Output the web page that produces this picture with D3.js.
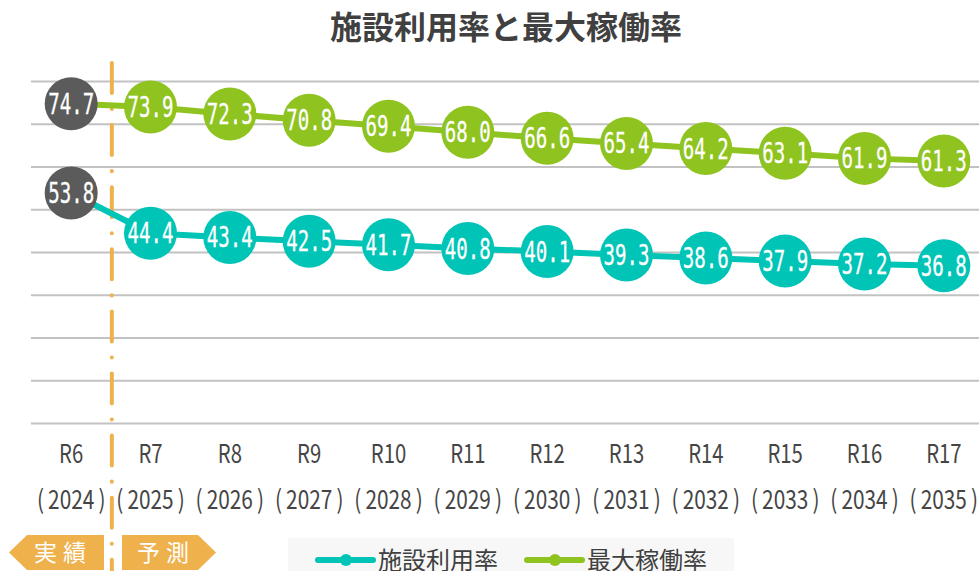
<!DOCTYPE html>
<html>
<head>
<meta charset="utf-8">
<script src="https://cdn.jsdelivr.net/npm/d3@7"></script>
<style>
  body { margin: 0; background: #fff; }
  svg { display: block; font-family: "Noto Sans CJK JP", "Noto Sans", sans-serif; }
</style>
</head>
<body>
<div id="chart"></div>
<script>
'use strict'

// Values.
const periods = ['R6', 'R7', 'R8', 'R9', 'R10', 'R11', 'R12', 'R13', 'R14', 'R15', 'R16', 'R17'];
const years = ['2024', '2025', '2026', '2027', '2028', '2029', '2030', '2031', '2032', '2033', '2034', '2035'];
const usageRate = [53.8, 44.4, 43.4, 42.5, 41.7, 40.8, 40.1, 39.3, 38.6, 37.9, 37.2, 36.8];
const maxRate = [74.7, 73.9, 72.3, 70.8, 69.4, 68.0, 66.6, 65.4, 64.2, 63.1, 61.9, 61.3];
const yTicks = [0, 10, 20, 30, 40, 50, 60, 70, 80];
const seriesNames = ['施設利用率', '最大稼働率'];

const width = 979, height = 571;
const teal = '#00c4b6', green = '#8fc31f', actualGrey = '#5b5b5b', orange = '#eeb14c';

let svg = d3.select('#chart')
    .append('svg')
        .attr('width', width)
        .attr('height', height);

let x = d3.scaleBand()
    .domain(periods)
    .range([31.5, 983.5]);

let y = d3.scaleLinear()
    .domain([0, 80])
    .range([423, 81]);

let cx = d => x(d) + x.bandwidth() / 2;

// Title.
svg.append('text')
    .attr('x', 506)
    .attr('y', 39)
    .attr('text-anchor', 'middle')
    .attr('font-size', 32)
    .attr('font-weight', 700)
    .attr('fill', '#404040')
    .text('施設利用率と最大稼働率');

// Grid lines.
let grid = svg.append('g')
    .attr('transform', 'translate(31,0)')
    .call(d3.axisLeft(y).tickValues(yTicks).tickSize(-(width - 31)).tickFormat(''));
grid.select('.domain').remove();
grid.selectAll('.tick line')
    .attr('stroke', '#c2c2c2')
    .attr('stroke-width', 2);

// Actual / forecast divider.
let divX = x('R7') + 1;
svg.append('line')
    .attr('x1', divX).attr('x2', divX)
    .attr('y1', 63).attr('y2', height)
    .attr('stroke', orange)
    .attr('stroke-width', 4)
    .attr('stroke-linecap', 'round')
    .attr('stroke-dasharray', '30 16 0.1 16');

// Category labels.
let labels = svg.append('g')
    .attr('fill', '#454545')
    .attr('font-size', 26)
    .attr('text-anchor', 'middle');

labels.selectAll('text.period')
    .data(periods)
    .join('text')
        .attr('class', 'period')
        .attr('transform', d => `translate(${cx(d)},463) scale(0.78,1)`)
        .text(d => d);

labels.selectAll('text.year')
    .data(years)
    .join('text')
        .attr('class', 'year')
        .attr('transform', (d, i) => `translate(${cx(periods[i])},509) scale(0.8,1)`)
        .text(d => '(\u2009' + d + '\u2009)');

// Series.
let series = [
    {name: seriesNames[0], values: usageRate, color: teal},
    {name: seriesNames[1], values: maxRate, color: green}
];

let line = d3.line()
    .x((d, i) => cx(periods[i]))
    .y(d => y(d));

series.forEach(s => {
    svg.append('path')
        .attr('d', line(s.values))
        .attr('fill', 'none')
        .attr('stroke', s.color)
        .attr('stroke-width', 6);

    let pts = svg.append('g')
        .selectAll('g')
        .data(s.values)
        .join('g')
            .attr('transform', (d, i) => `translate(${cx(periods[i])},${y(d)})`);

    pts.append('circle')
        .attr('r', 26.5)
        .attr('fill', (d, i) => i === 0 ? actualGrey : s.color);

    pts.append('text')
        .attr('x', 0)
        .attr('y', 10)
        .attr('text-anchor', 'middle')
        .attr('font-family', '"DejaVu Sans Mono", monospace')
        .attr('font-size', 28)
        .attr('fill', '#fff')
        .attr('stroke', '#fff')
        .attr('stroke-width', 0.3)
        .attr('textLength', 46)
        .attr('lengthAdjust', 'spacingAndGlyphs')
        .text(d => d.toFixed(1));
});

// Actual / forecast badges.
let badgeTop = 535, badgeBottom = 570, badgeMid = (badgeTop + badgeBottom) / 2;
svg.append('path')
    .attr('d', `M9,${badgeMid} L27,${badgeTop} L104,${badgeTop} L104,${badgeBottom} L27,${badgeBottom} Z`)
    .attr('fill', orange);
svg.append('path')
    .attr('d', `M122,${badgeTop} L198,${badgeTop} L216,${badgeMid} L198,${badgeBottom} L122,${badgeBottom} Z`)
    .attr('fill', orange);
svg.append('text')
    .attr('x', 63).attr('y', badgeMid + 8)
    .attr('text-anchor', 'middle')
    .attr('font-size', 23)
    .attr('letter-spacing', 6)
    .attr('fill', '#fff')
    .text('実績');
svg.append('text')
    .attr('x', 166).attr('y', badgeMid + 8)
    .attr('text-anchor', 'middle')
    .attr('font-size', 23)
    .attr('letter-spacing', 6)
    .attr('fill', '#fff')
    .text('予測');

// Legend.
let legend = svg.append('g');
legend.append('rect')
    .attr('x', 288).attr('y', 538)
    .attr('width', 446).attr('height', 40)
    .attr('fill', '#f7f7f7');

let legendX = [318, 527];
series.forEach((s, i) => {
    let g = legend.append('g').attr('transform', `translate(${legendX[i]},560)`);
    g.append('line')
        .attr('x1', 0).attr('x2', 55)
        .attr('stroke', s.color)
        .attr('stroke-width', 6)
        .attr('stroke-linecap', 'round');
    g.append('circle')
        .attr('cx', 28).attr('r', 6)
        .attr('fill', s.color);
    g.append('text')
        .attr('x', 60).attr('y', 9)
        .attr('font-size', 24)
        .attr('fill', '#404040')
        .text(s.name);
});
</script>
</body>
</html>
